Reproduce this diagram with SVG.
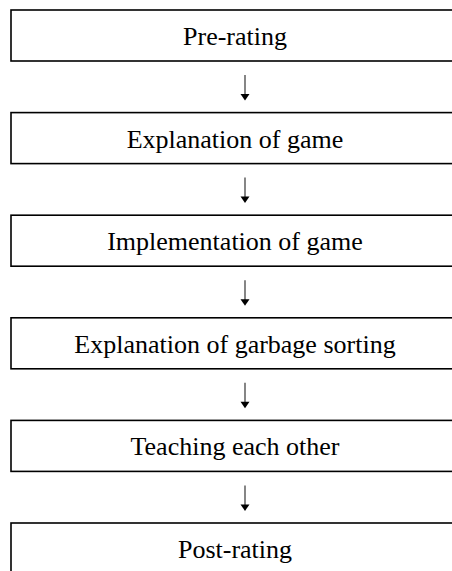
<svg xmlns="http://www.w3.org/2000/svg" width="452" height="571" viewBox="0 0 452 571">
<style>
.box{fill:#fff;stroke:#000;stroke-width:1.6}
.lbl{font-family:"Liberation Serif","Times New Roman",serif;font-size:26px;fill:#000;text-anchor:middle}
.arr{stroke:#222;stroke-width:1.1;fill:none}
.head{fill:#000}
</style>
<rect width="452" height="571" fill="#fff"/>
<g id="n1"><rect class="box" x="11" y="10" width="448" height="51"/><text class="lbl" x="235" y="45">Pre-rating</text></g>
<g id="n2"><rect class="box" x="11" y="112.6" width="448" height="51"/><text class="lbl" x="235" y="147.6">Explanation of game</text></g>
<g id="n3"><rect class="box" x="11" y="215.2" width="448" height="51"/><text class="lbl" x="235" y="250.2">Implementation of game</text></g>
<g id="n4"><rect class="box" x="11" y="317.8" width="448" height="51"/><text class="lbl" x="235" y="352.8">Explanation of garbage sorting</text></g>
<g id="n5"><rect class="box" x="11" y="420.4" width="448" height="51"/><text class="lbl" x="235" y="455.4">Teaching each other</text></g>
<g id="n6"><rect class="box" x="11" y="523" width="448" height="51"/><text class="lbl" x="235" y="558">Post-rating</text></g>
<g id="connectors">
<g transform="translate(0,0)"><line class="arr" x1="245" y1="75" x2="245" y2="97"/><polygon class="head" points="240.5,94 249.5,94 245,100.5"/></g>
<g transform="translate(0,102.6)"><line class="arr" x1="245" y1="75" x2="245" y2="97"/><polygon class="head" points="240.5,94 249.5,94 245,100.5"/></g>
<g transform="translate(0,205.2)"><line class="arr" x1="245" y1="75" x2="245" y2="97"/><polygon class="head" points="240.5,94 249.5,94 245,100.5"/></g>
<g transform="translate(0,307.8)"><line class="arr" x1="245" y1="75" x2="245" y2="97"/><polygon class="head" points="240.5,94 249.5,94 245,100.5"/></g>
<g transform="translate(0,410.4)"><line class="arr" x1="245" y1="75" x2="245" y2="97"/><polygon class="head" points="240.5,94 249.5,94 245,100.5"/></g>
</g>
</svg>
